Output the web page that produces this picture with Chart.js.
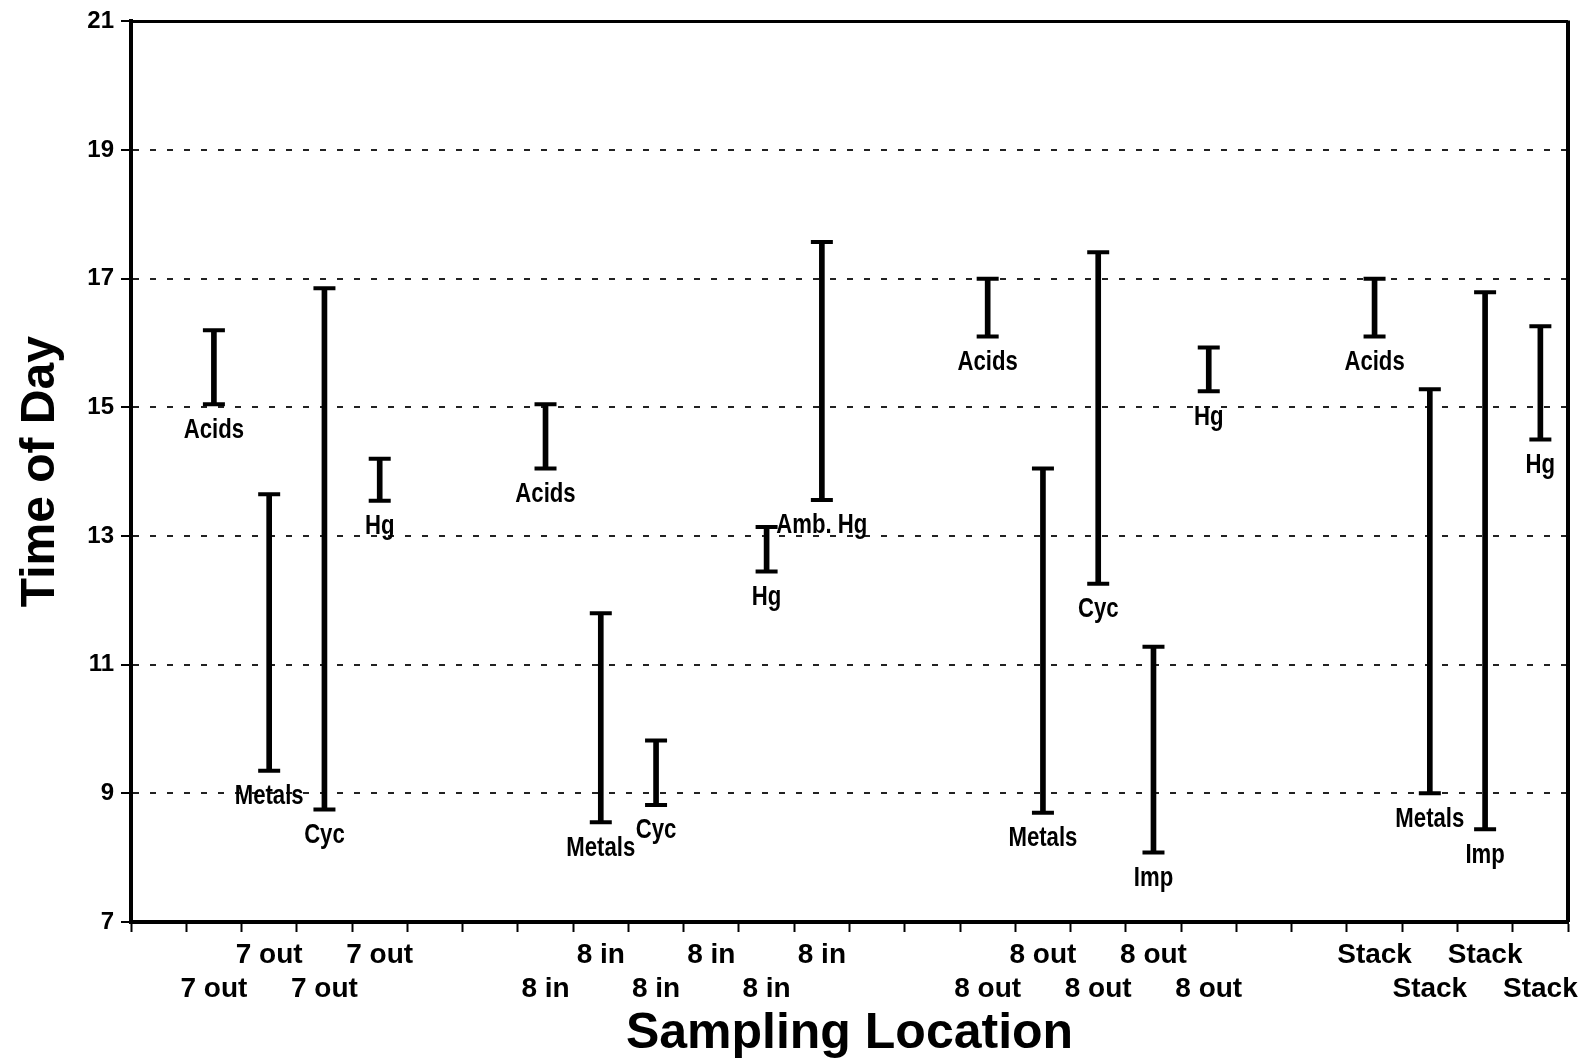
<!DOCTYPE html>
<html>
<head>
<meta charset="utf-8">
<script src="https://cdn.jsdelivr.net/npm/chart.js@4.4.1/dist/chart.umd.min.js"></script>
<style>
  html, body { margin: 0; padding: 0; background: #fff; }
  #wrap { width: 1586px; height: 1064px; }
</style>
</head>
<body>
<div id="wrap"><canvas id="sampling-times"></canvas></div>
<script>
// Sampling windows per location (time of day in hours)
const locations = ['', '7 out', '7 out', '7 out', '7 out', '', '',
  '8 in', '8 in', '8 in', '8 in', '8 in', '8 in', '', '',
  '8 out', '8 out', '8 out', '8 out', '8 out', '', '',
  'Stack', 'Stack', 'Stack', 'Stack'];
const samples = [null, 'Acids', 'Metals', 'Cyc', 'Hg', null, null,
  'Acids', 'Metals', 'Cyc', null, 'Hg', 'Amb. Hg', null, null,
  'Acids', 'Metals', 'Cyc', 'Imp', 'Hg', null, null,
  'Acids', 'Metals', 'Imp', 'Hg'];
const startTimes = [null, 15.05, 9.35, 8.75, 13.55, null, null,
  14.05, 8.55, 8.82, null, 12.45, 13.56, null, null,
  16.1, 8.7, 12.26, 8.08, 15.25, null, null,
  16.1, 9.0, 8.44, 14.5];
const endTimes = [null, 16.2, 13.65, 16.85, 14.2, null, null,
  15.05, 11.8, 9.82, null, 13.14, 17.57, null, null,
  17.0, 14.05, 17.41, 11.28, 15.93, null, null,
  17.0, 15.28, 16.79, 16.26];
const yTicks = [7, 9, 11, 13, 15, 17, 19, 21];

const sans = "'Liberation Sans', Arial, sans-serif";

// text under each bar (squeezed to look like a narrow face)
const sampleLabels = {
  id: 'sampleLabels',
  afterDatasetsDraw(chart) {
    const {ctx, scales: {x, y}} = chart;
    const squeeze = 0.82;
    ctx.save();
    ctx.scale(squeeze, 1);
    ctx.font = 'bold 27px ' + sans;
    ctx.fillStyle = '#000';
    ctx.textAlign = 'center';
    ctx.textBaseline = 'middle';
    samples.forEach((name, i) => {
      if (!name) return;
      ctx.fillText(name, x.getPixelForValue(i) / squeeze, y.getPixelForValue(startTimes[i]) + 26);
    });
    ctx.restore();
  }
};

// top and right edges of the box
const frame = {
  id: 'frame',
  afterDraw(chart) {
    const {ctx, chartArea: a} = chart;
    ctx.save();
    ctx.strokeStyle = '#000';
    ctx.lineWidth = 3;
    ctx.beginPath();
    ctx.moveTo(a.left, a.top);
    ctx.lineTo(a.right, a.top);
    ctx.stroke();
    ctx.lineWidth = 4;
    ctx.beginPath();
    ctx.moveTo(a.right, a.top - 1);
    ctx.lineTo(a.right, a.bottom);
    ctx.stroke();
    ctx.restore();
  }
};

const ctx = document.getElementById('sampling-times').getContext('2d');
new Chart(ctx, {
  data: {
    labels: locations,
    datasets: [
      {
        type: 'bar',
        data: startTimes.map((s, i) => s == null ? null : [s, endTimes[i]]),
        backgroundColor: '#000',
        barThickness: 5,
        borderSkipped: false
      },
      {
        type: 'line',
        data: startTimes,
        showLine: false,
        pointStyle: 'line',
        pointRadius: 11,
        pointBorderWidth: 4,
        pointBorderColor: '#000'
      },
      {
        type: 'line',
        data: endTimes,
        showLine: false,
        pointStyle: 'line',
        pointRadius: 11,
        pointBorderWidth: 4,
        pointBorderColor: '#000'
      }
    ]
  },
  options: {
    responsive: true,
    maintainAspectRatio: false,
    animation: false,
    events: [],
    layout: { padding: { top: 18, right: 18, left: 0, bottom: 0 } },
    scales: {
      x: {
        afterFit: function(scale) { scale.height = 142; },
        grid: {
          drawOnChartArea: false,
          drawTicks: true,
          tickLength: 10,
          tickWidth: 2,
          tickColor: '#000'
        },
        border: { color: '#000', width: 4 },
        ticks: {
          autoSkip: false,
          maxRotation: 0,
          padding: 6,
          color: '#000',
          font: { family: sans, size: 28, weight: 'bold', lineHeight: '34px' },
          callback: function(value, index) {
            const label = locations[index];
            return index % 2 === 0 ? [label, ''] : ['', label];
          }
        },
        title: {
          display: true,
          text: 'Sampling Location',
          color: '#000',
          padding: { top: 0, bottom: 0 },
          font: { family: sans, size: 50, weight: 'bold', lineHeight: 1.2 }
        }
      },
      y: {
        min: 7,
        max: 21,
        afterFit: function(scale) { scale.width = 131; },
        afterBuildTicks: function(scale) {
          scale.ticks = yTicks.map(v => ({ value: v }));
        },
        grid: {
          color: c => (c.tick && (c.tick.value === 7 || c.tick.value === 21)) ? 'rgba(0,0,0,0)' : '#222',
          lineWidth: 2,
          tickLength: 10,
          tickWidth: 2,
          tickColor: '#000'
        },
        border: { color: '#000', width: 4, dash: [6, 11] },
        ticks: {
          padding: 7,
          color: '#000',
          font: { family: sans, size: 24, weight: 'bold' }
        },
        title: {
          display: true,
          text: 'Time of Day',
          color: '#000',
          padding: { top: 12, bottom: 0 },
          font: { family: sans, size: 48, weight: 'bold', lineHeight: 1.2 }
        }
      }
    },
    plugins: {
      legend: { display: false },
      tooltip: { enabled: false }
    }
  },
  plugins: [sampleLabels, frame]
});
</script>
</body>
</html>
